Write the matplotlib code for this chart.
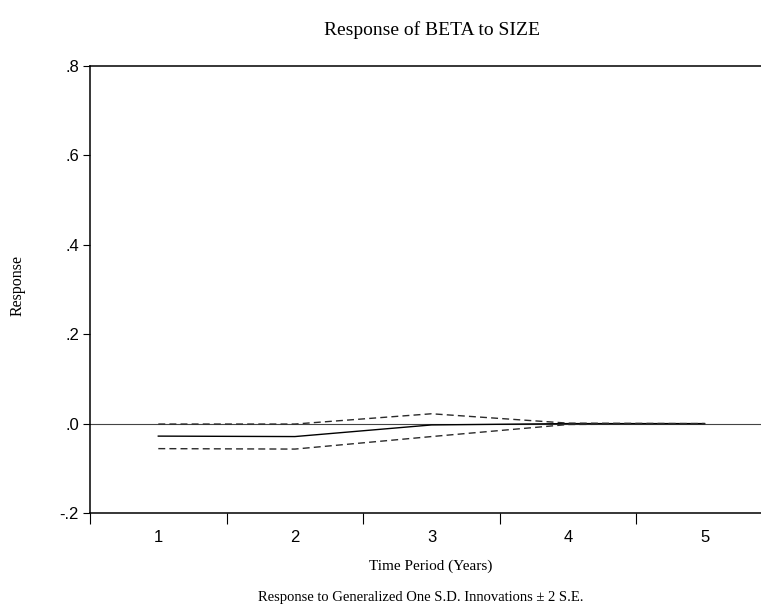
import matplotlib
matplotlib.use("Agg")
import matplotlib.pyplot as plt
from matplotlib.ticker import FixedLocator, NullFormatter

# Impulse response of BETA to a SIZE shock, with +/- 2 S.E. bands
periods = [1, 2, 3, 4, 5]
response = [-0.028, -0.029, -0.003, 0.0, 0.0]
upper_band = [-0.001, -0.001, 0.022, 0.001, 0.0]
lower_band = [-0.056, -0.057, -0.029, -0.002, 0.0]

y_ticks = [-0.2, 0.0, 0.2, 0.4, 0.6, 0.8]
y_tick_labels = ["-.2", ".0", ".2", ".4", ".6", ".8"]

serif = ["Liberation Serif", "DejaVu Serif"]
sans = ["Liberation Sans Narrow", "Liberation Sans", "DejaVu Sans"]

W, H = 761, 608
fig = plt.figure(figsize=(W / 100, H / 100), dpi=100)
left, right, top, bottom = 90, 773, 66, 513
ax = fig.add_axes([left / W, 1 - bottom / H, (right - left) / W, (bottom - top) / H])

ax.plot(periods, response, color="black", lw=1.0, solid_joinstyle="miter")
ax.plot(periods, upper_band, color="#2a2a2a", lw=1.0, dashes=(5, 3))
ax.plot(periods, lower_band, color="#2a2a2a", lw=1.0, dashes=(5, 3))
ax.axhline(0, color="#444444", lw=0.8, zorder=0)

ax.set_xlim(0.5, 5.5)
ax.set_ylim(-0.2, 0.8)

ax.spines["right"].set_visible(False)
for s in ("top", "left", "bottom"):
    ax.spines[s].set_linewidth(1.1)
    ax.spines[s].set_color("black")

ax.set_yticks(y_ticks)
ax.set_yticklabels(y_tick_labels, fontfamily=sans, fontsize=12)
ax.tick_params(axis="y", direction="out", length=5, width=0.8, pad=3)

# category labels at integer periods, tick marks on boundaries
ax.xaxis.set_major_locator(FixedLocator([0.5, 1.5, 2.5, 3.5, 4.5]))
ax.xaxis.set_major_formatter(NullFormatter())
ax.set_xticks(periods, minor=True)
ax.set_xticklabels([str(p) for p in periods], minor=True, fontfamily=sans, fontsize=12)
ax.tick_params(axis="x", which="major", direction="out", length=8, width=0.8)
ax.tick_params(axis="x", which="minor", length=0, pad=12)

fig.text(432 / W, 1 - 30 / H, "Response of BETA to SIZE", ha="center", va="center",
         fontfamily=serif, fontsize=14)
fig.text(431 / W, 1 - 566 / H, "Time Period (Years)", ha="center", va="center",
         fontfamily=serif, fontsize=11)
fig.text(421 / W, 1 - 598 / H, "Response to Generalized One S.D. Innovations \u00b1 2 S.E.",
         ha="center", va="center", fontfamily=serif, fontsize=10.5)
fig.text(18 / W, 1 - 286 / H, "Response", ha="center", va="center", rotation=90,
         fontfamily=serif, fontsize=11.5)

fig.savefig("out.png", dpi=100)
